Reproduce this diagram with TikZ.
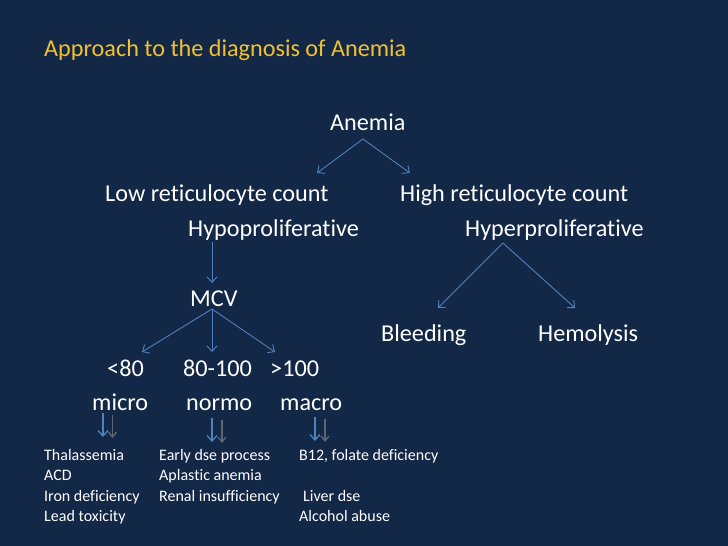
\documentclass[tikz,border=0pt]{standalone}
\usepackage{fontspec}
\setmainfont{Carlito}[Ligatures={NoCommon,NoContextual}]
\usepackage{xcolor}
\usetikzlibrary{arrows.meta,calc,positioning}
\definecolor{slidebg}{RGB}{19,40,71}
\definecolor{titlegold}{RGB}{242,193,46}
\definecolor{arrowblue}{RGB}{79,129,189}
\definecolor{arrowgrey}{RGB}{96,100,112}

\begin{document}
\begin{tikzpicture}[x=1pt,y=-1pt,
	big/.style={anchor=base west,inner sep=0pt,text=white,font=\fontsize{24.2}{28}\selectfont},
	small/.style={anchor=base west,inner sep=0pt,text=white,font=\fontsize{16}{19}\selectfont},
	arr/.style={-{Straight Barb[length=5.5pt,width=10pt]},arrowblue,line width=0.9pt},
	shadearr/.style={-{Straight Barb[length=5pt,width=8pt]},arrowgrey,line width=1.3pt}]
	\fill[slidebg] (0,0) rectangle (728,546);
	\useasboundingbox (0,0) rectangle (728,546);
	\node[big,text=titlegold] (title) at (44,56) {Approach to the diagnosis of Anemia};
	% tree
	\node[big] (anemia) at (330,130.5) {Anemia};
	\node[big] (lowret) at (105,201) {Low reticulocyte count};
	\node[big] (highret) at (400,201) {High reticulocyte count};
	\node[big] (hypo) at (188,236) {Hypoproliferative};
	\node[big] (hyper) at (465,236) {Hyperproliferative};
	\node[big] (mcv) at (190,306) {MCV};
	\node[big] (bleed) at (381,341) {Bleeding};
	\node[big] (hemo) at (538,341) {Hemolysis};
	\node[big] (lt80) at (107,376) {<80};
	\node[big] (mid) at (183,376) {80-100};
	\node[big] (gt100) at (270,376) {>100};
	\node[big] (micro) at (92,410) {micro};
	\node[big] (normo) at (186,410) {normo};
	\node[big] (macro) at (280,410) {macro};
	% branch points and tips
	\coordinate (anemiaSplit) at (363,139);
	\coordinate (lowTip) at (317,173);
	\coordinate (highTip) at (410,173);
	\coordinate (hypoStart) at (212,242);
	\coordinate (mcvTip) at (212,283);
	\coordinate (mcvSplit) at (212,309);
	\coordinate (lt80Tip) at (142,352);
	\coordinate (midTip) at (212,352);
	\coordinate (gt100Tip) at (275,352);
	\coordinate (hyperSplit) at (503,243);
	\coordinate (bleedTip) at (438,308);
	\coordinate (hemoTip) at (575,308);
	\draw[arr] (anemiaSplit) -- (lowTip);
	\draw[arr] (anemiaSplit) -- (highTip);
	\draw[arr] (hypoStart) -- (mcvTip);
	\draw[arr] (mcvSplit) -- (lt80Tip);
	\draw[arr] (mcvSplit) -- (midTip);
	\draw[arr] (mcvSplit) -- (gt100Tip);
	\draw[arr] (hyperSplit) -- (bleedTip);
	\draw[arr] (hyperSplit) -- (hemoTip);
	% small arrows under micro / normo / macro
	\foreach \bx/\gx/\top in {103/112.5/413,212/222/418,315/325/417}{
		\coordinate (b\bx) at (\bx,\top);
		\coordinate (g\bx) at (\gx,\top+2);
		\draw[shadearr] (g\bx) -- ++(0,23);
		\draw[arr,line width=1.3pt] (b\bx) -- ++(0,24);
	}
	% causes
	\node[small] (thal) at (44,460.7) {Thalassemia};
	\node[small] (acd) at (44,480.7) {ACD};
	\node[small] (iron) at (44,501) {Iron deficiency};
	\node[small] (lead) at (44,521) {Lead toxicity};
	\node[small] (early) at (159,460.7) {Early dse process};
	\node[small] (aplastic) at (159,480.7) {Aplastic anemia};
	\node[small] (renal) at (159,501) {Renal insufficiency};
	\node[small] (folate) at (299,460.7) {B12, folate deficiency};
	\node[small] (liver) at (303,501) {Liver dse};
	\node[small] (alcohol) at (299,521) {Alcohol abuse};
\end{tikzpicture}
\end{document}
